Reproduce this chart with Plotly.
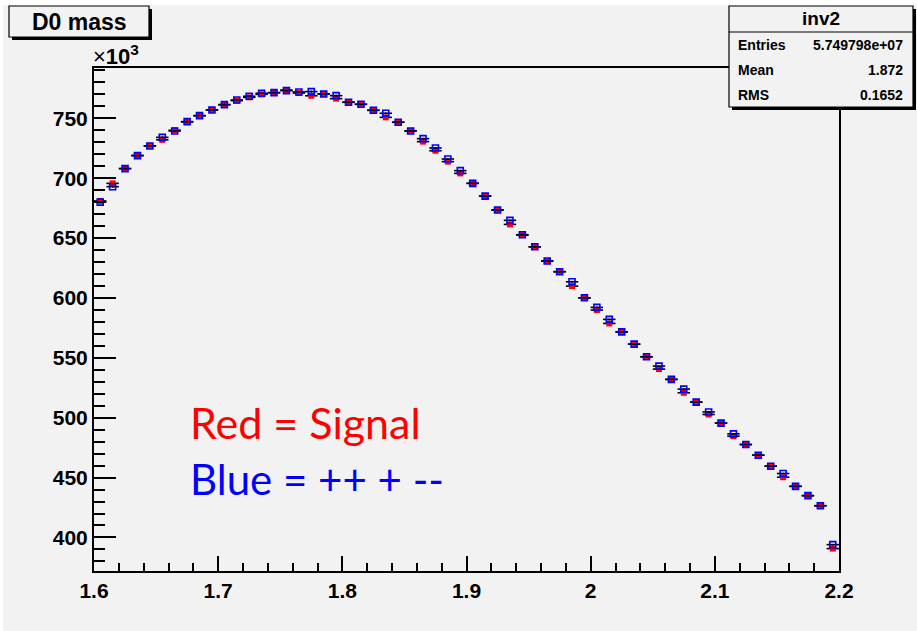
import numpy as np
import plotly.graph_objects as go

# ---- data (y in units of 10^3 entries) ----
bin_low = 1.6
bin_width = 0.01
n_bins = 60
bin_centers = [round(bin_low + bin_width * (i + 0.5), 4) for i in range(n_bins)]

signal_red = [681.0, 695.7, 708.0, 719.0, 727.0, 732.0, 740.0, 747.0, 752.2, 757.0,
              761.4, 764.7, 767.5, 770.0, 771.4, 773.6, 771.1, 768.8, 770.3, 766.4,
              763.4, 761.7, 756.7, 750.8, 746.7, 739.4, 730.5, 722.9, 713.8, 704.0,
              695.7, 685.0, 673.4, 661.4, 652.5, 642.7, 630.8, 621.9, 609.9, 600.1,
              589.9, 578.7, 571.7, 561.4, 550.9, 540.6, 532.0, 520.8, 513.0, 502.7,
              495.5, 484.6, 477.6, 468.7, 459.5, 450.3, 442.7, 434.9, 426.5, 390.7]

likesign_blue = [680.0, 692.9, 708.0, 718.8, 726.9, 734.1, 739.4, 747.2, 752.2, 756.9,
                 761.4, 765.3, 768.4, 770.9, 771.4, 773.1, 772.0, 772.3, 770.3, 768.9,
                 763.4, 761.7, 756.7, 754.2, 746.7, 739.4, 733.0, 725.2, 716.0, 706.3,
                 695.7, 685.0, 673.4, 664.8, 652.8, 642.7, 630.8, 621.9, 613.5, 600.1,
                 592.1, 582.1, 571.7, 561.4, 550.9, 543.1, 532.0, 523.9, 513.0, 504.8,
                 495.5, 486.5, 477.6, 468.7, 459.5, 453.4, 442.7, 434.9, 426.5, 394.0]

x_ticks = [1.6, 1.7, 1.8, 1.9, 2.0, 2.1, 2.2]
x_tick_labels = ["1.6", "1.7", "1.8", "1.9", "2", "2.1", "2.2"]
y_ticks = [400, 450, 500, 550, 600, 650, 700, 750]
y_tick_labels = ["400", "450", "500", "550", "600", "650", "700", "750"]

stats_title = "inv2"
stats_rows = [("Entries", "5.749798e+07"), ("Mean", "1.872"), ("RMS", "0.1652")]

# ---- geometry helpers (pixel -> paper) ----
W, H = 917, 631
ML, MR, MT, MB = 94, 78, 68, 60
PW, PH = W - ML - MR, H - MT - MB


def px(x):
    return (x - ML) / PW


def py(y):
    return (H - MB - y) / PH


BG = "#f2f2f2"
FONT = "Liberation Sans"


def trace(yvals, color, symbol, size, line_w):
    err_y = [np.sqrt(v * 1000.0) / 1000.0 for v in yvals]
    return go.Scatter(
        x=bin_centers, y=yvals, mode="markers",
        marker=dict(color=color, symbol=symbol, size=size,
                    line=dict(color=color, width=line_w)),
        error_x=dict(type="constant", value=bin_width / 2, color="black",
                     thickness=1.6, width=0),
        error_y=dict(type="data", array=err_y, color="black", thickness=1.2, width=0),
        showlegend=False, hoverinfo="x+y",
    )


fig = go.Figure()
fig.add_trace(trace(signal_red, "#ff0000", "square", 6, 0))
fig.add_trace(trace(likesign_blue, "#0000ff", "square-open", 6, 1.6))

shapes = []
# canvas
shapes.append(dict(type="rect", xref="paper", yref="paper", x0=px(3), x1=px(917),
                   y0=py(631), y1=py(5), fillcolor=BG, line=dict(width=0), layer="below"))
# title box with shadow
shapes.append(dict(type="rect", xref="paper", yref="paper", x0=px(12), x1=px(152),
                   y0=py(40), y1=py(9), fillcolor="black", line=dict(width=0), layer="above"))
shapes.append(dict(type="rect", xref="paper", yref="paper", x0=px(9), x1=px(149),
                   y0=py(37), y1=py(6), fillcolor=BG, line=dict(color="black", width=1.2),
                   layer="above"))
# stats box with shadow
shapes.append(dict(type="rect", xref="paper", yref="paper", x0=px(732), x1=px(916),
                   y0=py(110), y1=py(9), fillcolor="black", line=dict(width=0), layer="above"))
shapes.append(dict(type="rect", xref="paper", yref="paper", x0=px(729), x1=px(913),
                   y0=py(107), y1=py(6), fillcolor=BG, line=dict(color="black", width=1.2),
                   layer="above"))
shapes.append(dict(type="line", xref="paper", yref="paper", x0=px(729), x1=px(913),
                   y0=py(32), y1=py(32), line=dict(color="black", width=1.2), layer="above"))

annotations = []
annotations.append(dict(xref="paper", yref="paper", x=px(79), y=py(22), text="<b>D0 mass</b>",
                        showarrow=False, xanchor="center", yanchor="middle",
                        font=dict(family=FONT, size=23, color="black")))
annotations.append(dict(xref="paper", yref="paper", x=px(91), y=py(55),
                        text="×<b>10<sup>3</sup></b>", showarrow=False,
                        xanchor="left", yanchor="middle",
                        font=dict(family=FONT, size=22, color="black")))
annotations.append(dict(xref="paper", yref="paper", x=px(821), y=py(19),
                        text="<b>" + stats_title + "</b>", showarrow=False,
                        xanchor="center", yanchor="middle",
                        font=dict(family=FONT, size=19, color="black")))
row_y = [45, 70, 95]
for (lab, val), yy in zip(stats_rows, row_y):
    annotations.append(dict(xref="paper", yref="paper", x=px(736), y=py(yy),
                            text="<b>" + lab + "</b>", showarrow=False,
                            xanchor="left", yanchor="middle",
                            font=dict(family=FONT, size=14, color="black")))
    annotations.append(dict(xref="paper", yref="paper", x=px(905), y=py(yy),
                            text="<b>" + val + "</b>", showarrow=False,
                            xanchor="right", yanchor="middle",
                            font=dict(family=FONT, size=14, color="black")))
annotations.append(dict(xref="paper", yref="paper", x=px(188), y=py(422),
                        text="Red = Signal", showarrow=False,
                        xanchor="left", yanchor="middle",
                        font=dict(family="Lato", size=43, color="#ff0000")))
annotations.append(dict(xref="paper", yref="paper", x=px(188), y=py(479),
                        text="Blue = ++ + --", showarrow=False,
                        xanchor="left", yanchor="middle",
                        font=dict(family="Lato", size=42, color="#0000ff")))

fig.update_layout(
    width=W, height=H,
    margin=dict(l=ML, r=MR, t=MT, b=MB, pad=0),
    paper_bgcolor="white", plot_bgcolor=BG,
    shapes=shapes, annotations=annotations,
    xaxis=dict(range=[1.6, 2.2], tickmode="array", tickvals=x_ticks, ticktext=x_tick_labels,
               ticks="inside", ticklen=15, tickwidth=1.5, tickcolor="black",
               minor=dict(tick0=1.6, dtick=0.02, ticks="inside", ticklen=8, tickwidth=1.5,
                          tickcolor="black"),
               showgrid=False, zeroline=False, showline=True, linecolor="black",
               linewidth=2, mirror=True,
               tickfont=dict(family=FONT, size=21, color="black", weight="bold")),
    yaxis=dict(range=[372, 792], tickmode="array", tickvals=y_ticks, ticktext=y_tick_labels,
               ticks="inside", ticklen=22, tickwidth=1.5, tickcolor="black",
               minor=dict(tick0=400, dtick=10, ticks="inside", ticklen=11, tickwidth=1.5,
                          tickcolor="black"),
               showgrid=False, zeroline=False, showline=True, linecolor="black",
               linewidth=2, mirror=True,
               tickfont=dict(family=FONT, size=21, color="black", weight="bold")),
)

fig.write_html("out.html", config={"displayModeBar": False},
               post_script="document.body.style.margin='0';document.body.style.padding='0';")
